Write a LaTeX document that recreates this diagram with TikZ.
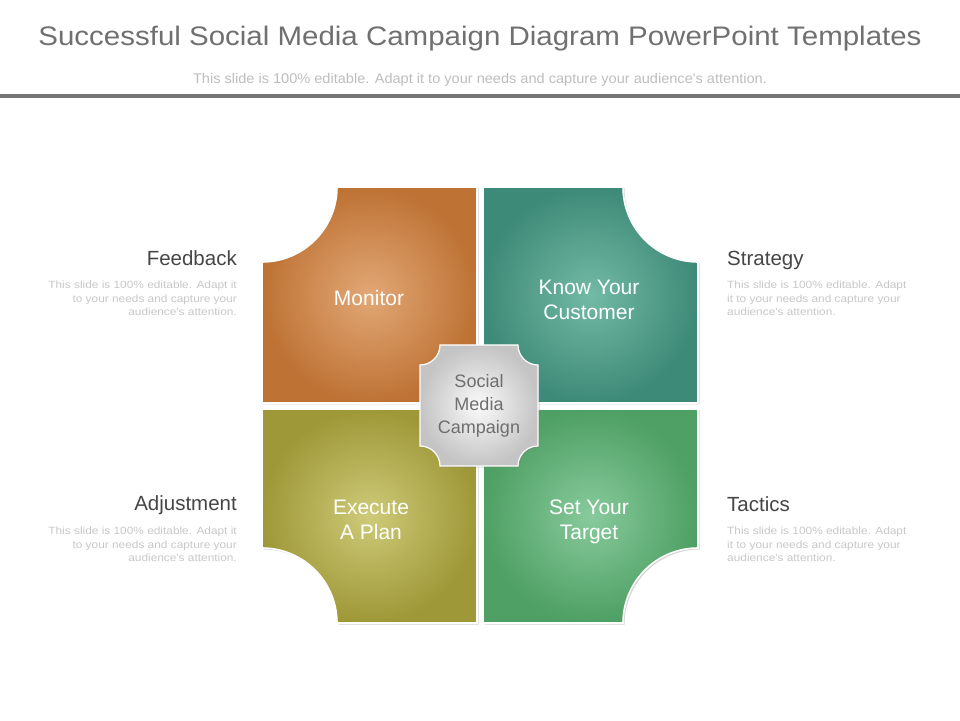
\documentclass[tikz,border=0pt]{standalone}
\usepackage{fontspec}
\setmainfont{Liberation Sans}
\newfontfamily\titlefont[FakeStretch=1.1]{Liberation Sans}
\newfontfamily\subfont[FakeStretch=1.04]{Liberation Sans}
\newfontfamily\bodyfont[FakeStretch=1.13]{Liberation Sans}
\usetikzlibrary{shadows}
\definecolor{titlegray}{RGB}{112,112,112}
\definecolor{subgray}{RGB}{190,190,190}
\definecolor{rulegray}{RGB}{118,118,118}
\definecolor{headgray}{RGB}{70,70,70}
\definecolor{bodygray}{RGB}{200,200,200}
\definecolor{orgout}{RGB}{190,114,52}
\definecolor{orgin}{RGB}{226,168,118}
\definecolor{tealout}{RGB}{62,138,120}
\definecolor{tealin}{RGB}{114,186,164}
\definecolor{oliveout}{RGB}{158,152,56}
\definecolor{olivein}{RGB}{206,202,120}
\definecolor{greenout}{RGB}{78,160,100}
\definecolor{greenin}{RGB}{136,202,156}
\definecolor{boxout}{RGB}{196,196,196}
\definecolor{boxin}{RGB}{250,250,250}
\definecolor{centertext}{RGB}{110,110,110}
\tikzset{
  quad/.style={draw=white, line width=1.6pt, shading=radial,
    drop shadow={opacity=0.35, shadow xshift=1.5pt, shadow yshift=-1.5pt}},
  quadlabel/.style={text=white, font=\fontsize{21}{25}\selectfont, align=center},
  headtext/.style={text=headgray, font=\fontsize{20.5}{22}\selectfont, inner sep=0pt},
  bodyleft/.style={text=bodygray, font=\bodyfont\fontsize{10.5}{13.5}\selectfont, align=right, anchor=north east, inner sep=0pt},
  bodyright/.style={text=bodygray, font=\bodyfont\fontsize{10.5}{13.5}\selectfont, align=left, anchor=north west, inner sep=0pt},
}
\begin{document}
\begin{tikzpicture}[x=1pt,y=1pt]
\useasboundingbox (0,0) rectangle (960,720);
\fill[white] (0,0) rectangle (960,720);
% title
\node[text=titlegray, font=\titlefont\fontsize{26.8}{32}\selectfont] (title) at (480,681) {Successful Social Media Campaign Diagram PowerPoint Templates};
\node[text=subgray, font=\subfont\fontsize{14}{16}\selectfont] (subtitle) at (480,640) {This slide is 100\% editable. Adapt it to your needs and capture your audience's attention.};
\fill[rulegray] (0,622) rectangle (960,626);
% quadrants
\path[quad, inner color=orgin, outer color=orgout]
  (262,317) -- (477,317) -- (477,533) -- (337,533) arc[start angle=0, end angle=-90, radius=75] -- cycle;
\path[quad, inner color=tealin, outer color=tealout]
  (483,317) -- (483,533) -- (623,533) arc[start angle=180, end angle=270, radius=75] -- (698,317) -- cycle;
\path[quad, inner color=olivein, outer color=oliveout]
  (262,311) -- (477,311) -- (477,97) -- (337,97) arc[start angle=0, end angle=90, radius=75] -- cycle;
\path[quad, inner color=greenin, outer color=greenout]
  (483,311) -- (698,311) -- (698,172) arc[start angle=90, end angle=180, radius=75] -- (623,97) -- (483,97) -- cycle;
% center box
\path[draw=white, line width=1.2pt, shading=radial, inner color=boxin, outer color=boxout,
  drop shadow={opacity=0.4, shadow xshift=1.5pt, shadow yshift=-1.5pt}]
  (440,375) -- (518,375) arc[start angle=180, end angle=270, radius=20]
  -- (538,274) arc[start angle=90, end angle=180, radius=20]
  -- (440,254) arc[start angle=0, end angle=90, radius=20]
  -- (420,355) arc[start angle=270, end angle=360, radius=20] -- cycle;
% quadrant labels
\node[quadlabel] (monitor) at (369,422) {Monitor};
\node[quadlabel] (know) at (589,420) {Know Your\\Customer};
\node[quadlabel] (execute) at (371,200) {Execute\\A Plan};
\node[quadlabel] (target) at (589,198) {Set Your\\Target};
\node[text=centertext, font=\fontsize{18}{23}\selectfont, align=center] (center) at (479,314) {Social\\Media\\Campaign};
% side texts
\node[headtext, anchor=east] (feedback) at (237,462) {Feedback};
\node[bodyleft] (feedbackbody) at (237,439) {This slide is 100\% editable. Adapt it\\to your needs and capture your\\audience's attention.};
\node[headtext, anchor=west] (strategy) at (727,460) {Strategy};
\node[bodyright] (strategybody) at (727,439) {This slide is 100\% editable. Adapt\\it to your needs and capture your\\audience's attention.};
\node[headtext, anchor=east] (adjustment) at (237,215) {Adjustment};
\node[bodyleft] (adjustmentbody) at (237,193) {This slide is 100\% editable. Adapt it\\to your needs and capture your\\audience's attention.};
\node[headtext, anchor=west] (tactics) at (727,216) {Tactics};
\node[bodyright] (tacticsbody) at (727,193) {This slide is 100\% editable. Adapt\\it to your needs and capture your\\audience's attention.};
\end{tikzpicture}
\end{document}
